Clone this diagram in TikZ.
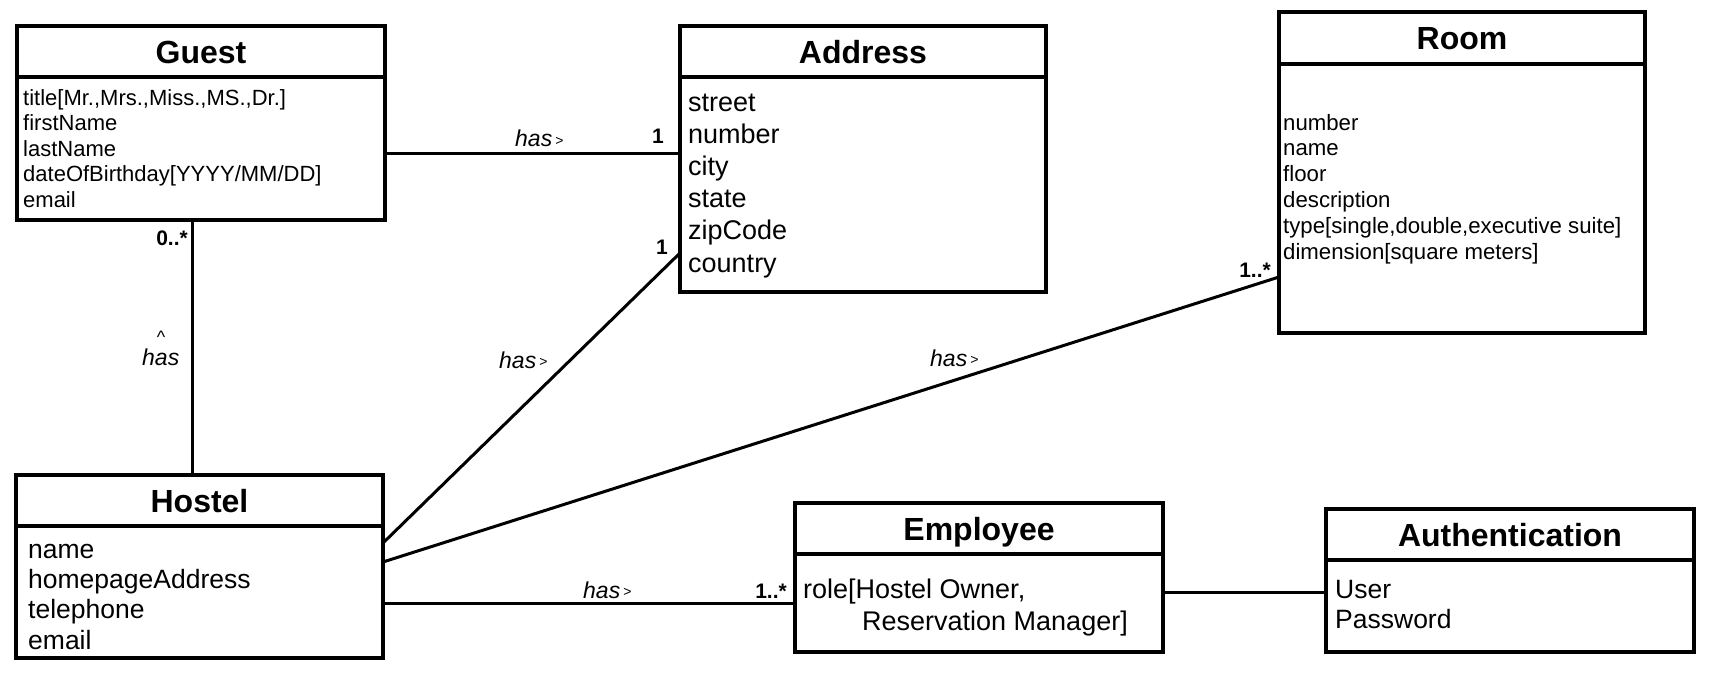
\documentclass[tikz,border=0pt]{standalone}
\usepackage{fontspec}
\setmainfont{Liberation Sans}
\begin{document}
\begin{tikzpicture}[x=1pt,y=-1pt,
  hdr/.style={draw, line width=4.5pt, anchor=north west, inner sep=0pt, outer sep=0pt,
    font=\bfseries\fontsize{32}{32}\selectfont, text height=23pt, text depth=0pt},
  bodybox/.style={draw, line width=4.5pt, anchor=north west, inner sep=0pt, outer sep=0pt},
  attr/.style={anchor=base west, inner sep=0pt, align=left},
  conn/.style={line width=3pt},
  mult/.style={anchor=base east, inner sep=0pt, font=\bfseries\fontsize{21}{21}\selectfont},
  rel/.style={anchor=base west, inner sep=0pt, font=\itshape\fontsize{23}{23}\selectfont},
]
\newcommand{\gt}{\kern3pt{\upshape\fontsize{14}{14}\selectfont\raisebox{1.5pt}{>}}}
\fill[white] (0,0) rectangle (1716,673);
\useasboundingbox (0,0) rectangle (1716,673);

% Guest
\node[hdr, minimum width=368, minimum height=51] (guestH) at (17,26) {Guest};
\node[bodybox, minimum width=368, minimum height=143] (guestB) at (guestH.south west) {};
\node[attr, font=\fontsize{22}{25.6}\selectfont] (guestT) at (23,207.4)
  {title[Mr.,Mrs.,Miss.,MS.,Dr.]\\firstName\\lastName\\dateOfBirthday[YYYY/MM/DD]\\email};

% Address
\node[hdr, minimum width=366, minimum height=51] (addrH) at (680,26) {Address};
\node[bodybox, minimum width=366, minimum height=215] (addrB) at (addrH.south west) {};
\node[attr, font=\fontsize{27}{32.2}\selectfont] (addrT) at (688,272)
  {street\\number\\city\\state\\zipCode\\country};

% Room
\node[hdr, minimum width=366, minimum height=52] (roomH) at (1279,12) {Room};
\node[bodybox, minimum width=366, minimum height=269] (roomB) at (roomH.south west) {};
\node[attr, font=\fontsize{22.2}{25.8}\selectfont] (roomT) at (1283,259)
  {number\\name\\floor\\description\\type[single,double,executive suite]\\dimension[square meters]};

% Hostel
\node[hdr, minimum width=367, minimum height=51] (hostelH) at (16,475) {Hostel};
\node[bodybox, minimum width=367, minimum height=132] (hostelB) at (hostelH.south west) {};
\node[attr, font=\fontsize{26.5}{30.3}\selectfont] (hostelT) at (28,649)
  {name\\homepageAddress\\telephone\\email};

% Employee
\node[hdr, minimum width=368, minimum height=51] (empH) at (795,503) {Employee};
\node[bodybox, minimum width=368, minimum height=98] (empB) at (empH.south west) {};
\node[attr, font=\fontsize{27}{32}\selectfont] (empT) at (803,630)
  {role[Hostel Owner,\\\hspace*{59pt}Reservation Manager]};

% Authentication
\node[hdr, minimum width=368, minimum height=51] (authH) at (1326,509) {Authentication};
\node[bodybox, minimum width=368, minimum height=92] (authB) at (authH.south west) {};
\node[attr, font=\fontsize{26.5}{30}\selectfont] (authT) at (1335,628)
  {User\\Password};

% connectors
\draw[conn] (guestB.east |- 0,153) -- (addrB.west |- 0,153);
\draw[conn] (guestB.south -| 192,0) -- (hostelH.north -| 192,0);
\draw[conn] (hostelB.east |- 0,543) -- (addrB.west |- 0,253);
\draw[conn] (hostelB.east |- 0,562) -- (roomB.west |- 0,277);
\draw[conn] (hostelB.east |- 0,603) -- (empB.west |- 0,603);
\draw[conn] (empB.east |- 0,592) -- (authB.west |- 0,592);

% labels
\node[rel] (l1) at (515,146.5) {has\gt};
\node[mult] (m1) at (664,143) {1};
\node[mult] (m2) at (188,245) {0..*};
\node[anchor=base, inner sep=0pt, font=\fontsize{18}{18}\selectfont] (caret) at (161,343) {\textasciicircum};
\node[rel] (l2) at (142,365) {has};
\node[rel] (l3) at (499,368) {has\gt};
\node[mult] (m3) at (668,254) {1};
\node[rel] (l4) at (930,366) {has\gt};
\node[mult] (m4) at (1271,277) {1..*};
\node[rel] (l5) at (583,598) {has\gt};
\node[mult] (m5) at (787,598) {1..*};
\end{tikzpicture}
\end{document}
